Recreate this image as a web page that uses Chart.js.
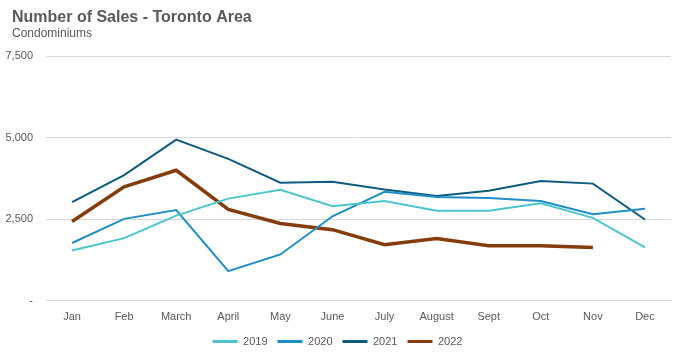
<!DOCTYPE html>
<html><head><meta charset="utf-8">
<script src="https://cdn.jsdelivr.net/npm/chart.js@4/dist/chart.umd.min.js"></script>
<style>html,body{margin:0;padding:0;background:#fff}#wrap{width:675px;height:360px}</style>
</head><body><div id="wrap"><canvas id="c"></canvas></div>
<script>
const titleText = "Number of Sales - Toronto Area";
const subtitleText = "Condominiums";
const months = ["Jan","Feb","March","April","May","June","July","August","Sept","Oct","Nov","Dec"];
const sales2019 = [1540,1920,2610,3130,3400,2900,3060,2760,2760,2990,2540,1640];
const sales2020 = [1770,2510,2780,910,1420,2590,3340,3180,3150,3060,2650,2820];
const sales2021 = [3020,3850,4940,4350,3620,3650,3410,3210,3370,3670,3590,2490];
const sales2022 = [2430,3490,4000,2800,2370,2180,1720,1910,1690,1690,1630];
const seriesNames = ["2019","2020","2021","2022"];
const colors = ["#4BC6CD","#1F8DC8","#0E5B7F","#843C0C"];
const widths = [2,2,2,3.5];
const allData = [sales2019,sales2020,sales2021,sales2022];
const yTicks = [0,2500,5000,7500];

const titlePlugin = {
  id:'leftTitle',
  afterDraw(chart){
    const ctx = chart.ctx;
    ctx.save();
    ctx.fillStyle = '#595959';
    ctx.textAlign = 'left';
    ctx.textBaseline = 'alphabetic';
    ctx.font = 'bold 16px "Liberation Sans", Arial';
    ctx.fillText(titleText, 12, 22);
    ctx.font = '12px "Liberation Sans", Arial';
    ctx.fillText(subtitleText, 12, 37);
    ctx.restore();
  }
};

new Chart(document.getElementById('c'), {
  type:'line',
  data:{labels:months, datasets: allData.map((d,i)=>({label:seriesNames[i],data:d,borderColor:colors[i],backgroundColor:colors[i],borderWidth:widths[i],pointRadius:0,tension:0,fill:false}))},
  options:{
    responsive:true, maintainAspectRatio:false, animation:false,
    layout:{padding:{left:4,right:4,top:56,bottom:3}},
    plugins:{
      title:{display:false},
      legend:{position:'bottom',labels:{color:'#595959',font:{family:'Liberation Sans, Arial',size:11},boxWidth:25,boxHeight:3,padding:10,
        generateLabels:(chart)=>chart.data.datasets.map((ds,i)=>({text:ds.label,fillStyle:ds.borderColor,strokeStyle:ds.borderColor,lineWidth:0,datasetIndex:i,hidden:false,fontColor:'#595959'}))}},
      tooltip:{enabled:false}
    },
    scales:{
      x:{offset:true,grid:{display:false,offset:true},border:{color:'#d9d9d9'},ticks:{color:'#595959',font:{family:'Liberation Sans, Arial',size:11},maxRotation:0,autoSkip:false,padding:2}},
      y:{min:0,max:7500,afterBuildTicks:(ax)=>{ax.ticks=yTicks.map(v=>({value:v}));},afterFit:(ax)=>{ax.width=42;},grid:{color:'#d9d9d9',drawTicks:false},border:{display:false},
        ticks:{color:'#595959',font:{family:'Liberation Sans, Arial',size:11},padding:13,callback:(v)=>v===0?'-':v.toLocaleString('en-US')}}
    }
  },
  plugins:[titlePlugin]
});
</script></body></html>
